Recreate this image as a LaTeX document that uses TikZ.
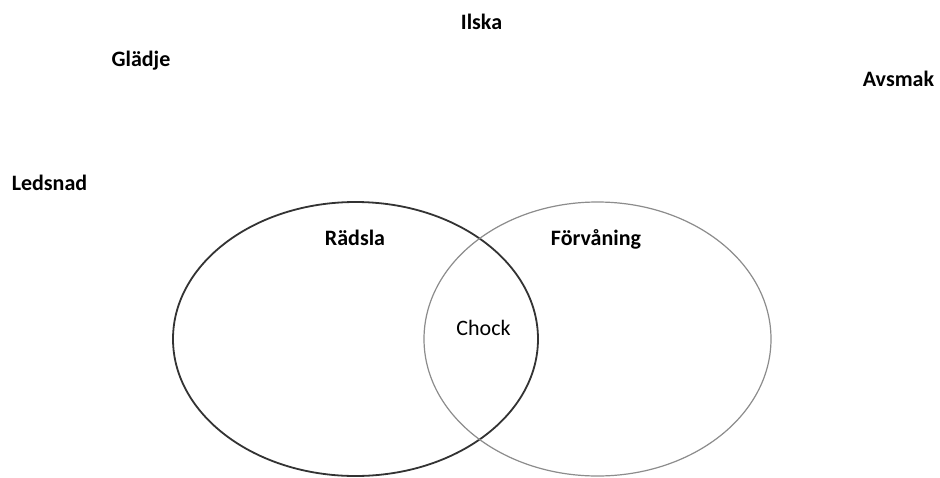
\documentclass[tikz,border=0pt]{standalone}
\usepackage{fontspec}
\setmainfont{Carlito}
\usetikzlibrary{shapes.geometric}
\begin{document}
\begin{tikzpicture}[x=1pt,y=1pt,
  label/.style={font=\fontsize{22}{26}\selectfont\bfseries, inner sep=0pt, anchor=base},
  plain/.style={font=\fontsize{22}{26}\selectfont, inner sep=0pt, anchor=base},
  setring/.style={ellipse, inner sep=0pt, outer sep=0pt}]
  \useasboundingbox[fill=white] (0,0) rectangle (940,-477);
  % the two overlapping sets
  \node[setring, draw=black!80, line width=1.8pt, minimum width=365pt, minimum height=274pt] (fear) at (355.5,-339) {};
  \node[setring, draw=black!45, line width=1.2pt, minimum width=347pt, minimum height=274pt] (surprise) at (597.5,-339) {};
  % set titles and intersection
  \node[label] (radsla) at (355,-245) {Rädsla};
  \node[label] (forvaning) at (596,-245) {Förvåning};
  \node[plain] (chock) at (483.5,-335) {Chock};
  % remaining emotions
  \node[label] (ilska) at (481.5,-29) {Ilska};
  \node[label] (gladje) at (141,-66) {Glädje};
  \node[label] (avsmak) at (898.5,-86) {Avsmak};
  \node[label] (ledsnad) at (49.5,-190) {Ledsnad};
\end{tikzpicture}
\end{document}
